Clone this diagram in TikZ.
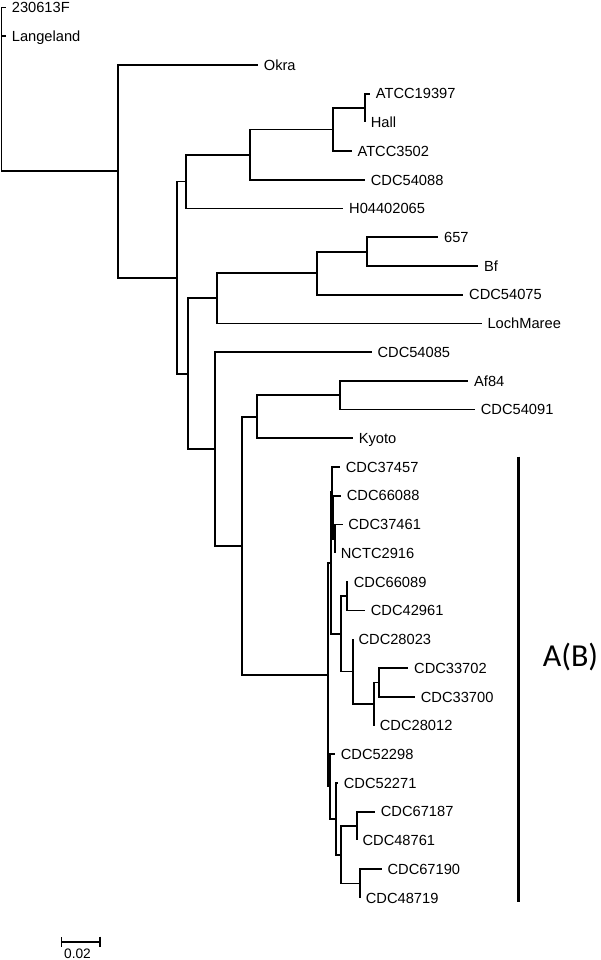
\documentclass[tikz,border=0pt]{standalone}
\usepackage{fontspec}
\setmainfont{Liberation Sans}
\newfontfamily\cladefont{Carlito}
\usepackage{tikz}
\usetikzlibrary{arrows.meta}

\begin{document}
\begin{tikzpicture}[x=0.75pt, y=-0.75pt,
      br/.style={line width=1.3pt},
      lf/.style={anchor=west, inner xsep=4.2pt, inner ysep=0pt,
                 text height=7.9pt, text depth=0pt,
                 font=\fontsize{11}{13}\selectfont},
      cladebar/.style={line width=2.2pt},
      cladelab/.style={font=\cladefont\fontsize{24}{28}\selectfont},
      scalelab/.style={font=\fontsize{10.3}{12}\selectfont, inner sep=0pt,
                 text height=7.4pt, text depth=0pt}
  ]
    \useasboundingbox (0,0) rectangle (600,960);
    % inner nodes of the tree
    \coordinate (root) at (1.5,89.4);
    \coordinate (n1)  at (118,171.3);
    \coordinate (n2)  at (176.7,277.7);
    \coordinate (n3)  at (185.7,181.6);
    \coordinate (n8)  at (250,154.7);
    \coordinate (n9)  at (333.3,129.6);
    \coordinate (n10) at (365,108.1);
    \coordinate (n4)  at (188.3,373.7);
    \coordinate (n5)  at (217,298.3);
    \coordinate (n11) at (317,273.2);
    \coordinate (n12) at (366.7,251.7);
    \coordinate (n6)  at (215,449);
    \coordinate (n7)  at (241.7,545.8);
    \coordinate (kyo) at (257.3,416.8);
    \coordinate (af)  at (340,395.2);
    \coordinate (ab)  at (328.3,674.8);
    \coordinate (ab1) at (331,563.1);
    \coordinate (a1)  at (331.7,492.2);
    \coordinate (a2)  at (333,517.3);
    \coordinate (a3)  at (335,538.8);
    \coordinate (b2)  at (340.7,634);
    \coordinate (b3)  at (346.7,596.3);
    \coordinate (b4)  at (352.7,671.6);
    \coordinate (b5)  at (374,704);
    \coordinate (b6)  at (379,682.4);
    \coordinate (ab2) at (330,786.5);
    \coordinate (c1)  at (335.7,818.9);
    \coordinate (c2)  at (341,854.7);
    \coordinate (c3)  at (356.7,826);
    \coordinate (c4)  at (360,883.5);

    % leaves
    \node[lf] (l230)  at (6,7.5)       {230613F};
    \node[lf] (llang) at (6,36.2)      {Langeland};
    \node[lf] (lokra) at (258,64.9)    {Okra};
    \node[lf] (latcc1) at (370,93.7)   {ATCC19397};
    \node[lf] (lhall) at (365,122.4)   {Hall};
    \node[lf] (latcc3) at (351.7,151.1) {ATCC3502};
    \node[lf] (l54088) at (365,179.8)  {CDC54088};
    \node[lf] (lh044) at (343.3,208.5) {H04402065};
    \node[lf] (l657)  at (438.3,237.3) {657};
    \node[lf] (lbf)   at (478.3,266)   {Bf};
    \node[lf] (l54075) at (463.3,294.7) {CDC54075};
    \node[lf] (lloch) at (481.7,323.4) {LochMaree};
    \node[lf] (l54085) at (371.7,352.1) {CDC54085};
    \node[lf] (laf84) at (468.3,380.9) {Af84};
    \node[lf] (l54091) at (475,409.6)  {CDC54091};
    \node[lf] (lkyoto) at (353,438.3)  {Kyoto};
    \node[lf] (l37457) at (340,467)    {CDC37457};
    \node[lf] (l66088) at (341,495.7)  {CDC66088};
    \node[lf] (l37461) at (342.5,524.5) {CDC37461};
    \node[lf] (lnctc) at (335,553.2)   {NCTC2916};
    \node[lf] (l66089) at (348,581.9)  {CDC66089};
    \node[lf] (l42961) at (365,610.6)  {CDC42961};
    \node[lf] (l28023) at (352.7,639.3) {CDC28023};
    \node[lf] (l33702) at (408.3,668.1) {CDC33702};
    \node[lf] (l33700) at (415,696.8)  {CDC33700};
    \node[lf] (l28012) at (374,725.5)  {CDC28012};
    \node[lf] (l52298) at (335,754.2)  {CDC52298};
    \node[lf] (l52271) at (338,782.9)  {CDC52271};
    \node[lf] (l67187) at (375,811.7)  {CDC67187};
    \node[lf] (l48761) at (356.7,840.4) {CDC48761};
    \node[lf] (l67190) at (381.7,869.1) {CDC67190};
    \node[lf] (l48719) at (360,897.8)  {CDC48719};

    % branches
    \draw[br] (root) |- (l230.west);  \draw[br] (root) |- (llang.west);
    \draw[br] (root) |- (n1);
    \draw[br] (n1) |- (lokra.west);   \draw[br] (n1) |- (n2);
    \draw[br] (n2) |- (n3);           \draw[br] (n2) |- (n4);
    \draw[br] (n3) |- (n8);           \draw[br] (n3) |- (lh044.west);
    \draw[br] (n8) |- (n9);           \draw[br] (n8) |- (l54088.west);
    \draw[br] (n9) |- (n10);          \draw[br] (n9) |- (latcc3.west);
    \draw[br] (n10) |- (latcc1.west); \draw[br] (n10) |- (lhall.west);
    \draw[br] (n4) |- (n5);           \draw[br] (n4) |- (n6);
    \draw[br] (n5) |- (n11);          \draw[br] (n5) |- (lloch.west);
    \draw[br] (n11) |- (n12);         \draw[br] (n11) |- (l54075.west);
    \draw[br] (n12) |- (l657.west);   \draw[br] (n12) |- (lbf.west);
    \draw[br] (n6) |- (l54085.west);  \draw[br] (n6) |- (n7);
    \draw[br] (n7) |- (kyo);          \draw[br] (n7) |- (ab);
    \draw[br] (kyo) |- (af);          \draw[br] (kyo) |- (lkyoto.west);
    \draw[br] (af) |- (laf84.west);   \draw[br] (af) |- (l54091.west);
    \draw[br] (ab) |- (ab1);          \draw[br] (ab) |- (ab2);
    \draw[br] (ab1) |- (a1);          \draw[br] (ab1) |- (b2);
    \draw[br] (a1) |- (l37457.west);  \draw[br] (a1) |- (a2);
    \draw[br] (a2) |- (l66088.west);  \draw[br] (a2) |- (a3);
    \draw[br] (a3) |- (l37461.west);  \draw[br] (a3) |- (lnctc.west);
    \draw[br] (b2) |- (b3);           \draw[br] (b2) |- (b4);
    \draw[br] (b3) |- (l66089.west);  \draw[br] (b3) |- (l42961.west);
    \draw[br] (b4) |- (l28023.west);  \draw[br] (b4) |- (b5);
    \draw[br] (b5) |- (b6);           \draw[br] (b5) |- (l28012.west);
    \draw[br] (b6) |- (l33702.west);  \draw[br] (b6) |- (l33700.west);
    \draw[br] (ab2) |- (l52298.west); \draw[br] (ab2) |- (c1);
    \draw[br] (c1) |- (l52271.west);  \draw[br] (c1) |- (c2);
    \draw[br] (c2) |- (c3);           \draw[br] (c2) |- (c4);
    \draw[br] (c3) |- (l67187.west);  \draw[br] (c3) |- (l48761.west);
    \draw[br] (c4) |- (l67190.west);  \draw[br] (c4) |- (l48719.west);

    % clade bar
    \coordinate (abtop) at (518.3,456.7);
    \coordinate (abbot) at (518.3,901.7);
    \draw[cladebar] (abtop) -- (abbot);
    \node[cladelab] (ablab) at (570.5,656.7) {A(B)};

    % scale bar
    \coordinate (sbl) at (60.7,941.7);
    \coordinate (sbr) at (101,941.7);
    \draw[br, {Bar[width=7.5pt]}-{Bar[width=7.5pt]}] (sbl) -- (sbr);
    \node[scalelab] (sblab) at (77.5,953.5) {0.02};
  \end{tikzpicture}
\end{document}
